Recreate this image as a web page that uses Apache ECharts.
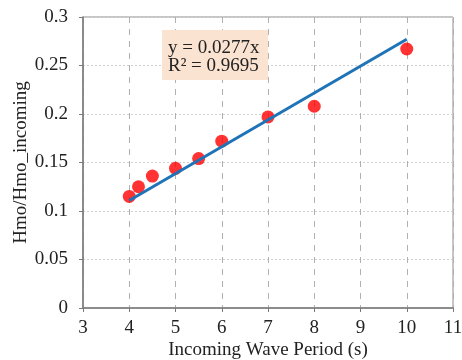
<!DOCTYPE html>
<html>
<head>
<meta charset="utf-8">
<script src="https://cdn.jsdelivr.net/npm/echarts@6/dist/echarts.min.js"></script>
<style>
  html, body { margin: 0; padding: 0; background: #fff; }
  #chart { width: 462px; height: 360px; }
</style>
</head>
<body>
<div id="chart"></div>
<script>
// measured points
const periods = [4, 4.2, 4.5, 5, 5.5, 6, 7, 8, 10]
const ratios = [0.115, 0.125, 0.136, 0.144, 0.154, 0.172, 0.197, 0.208, 0.267]

// linear fit through origin
const fitX = [4, 10]
const fitY = [0.1108, 0.277]
const fitLabels = ['y = 0.0277x', 'R² = 0.9695']

const xTitle = 'Incoming Wave Period (s)'
const yTitle = 'Hmo/Hmo_incoming'

const serif = '"Liberation Serif", "DejaVu Serif", serif'

const chart = echarts.init(document.getElementById('chart'))

const option = {
  animation: false,
  grid: {
    left: 83,
    right: 9,
    top: 17,
    bottom: 52,
    outerBoundsMode: 'none',
    show: true,
    borderColor: '#8c8c8c',
    borderWidth: 1
  },
  xAxis: {
    type: 'value',
    min: 3,
    max: 11,
    interval: 1,
    name: xTitle,
    nameLocation: 'middle',
    nameGap: 33,
    nameMoveOverlap: false,
    nameTextStyle: { fontFamily: serif, fontSize: 19, color: '#222' },
    axisLine: { show: true, lineStyle: { color: '#7a7a7a', width: 1.5 } },
    axisTick: { show: true, length: 4, lineStyle: { color: '#7a7a7a' } },
    axisLabel: { fontFamily: serif, fontSize: 19, color: '#222', margin: 11 },
    splitLine: {
      show: true,
      lineStyle: { color: '#b0b0b0', type: [6, 6], width: 1 }
    }
  },
  yAxis: {
    type: 'value',
    min: 0,
    max: 0.3,
    interval: 0.05,
    name: yTitle,
    nameLocation: 'middle',
    nameGap: 52,
    nameMoveOverlap: false,
    nameTextStyle: { fontFamily: serif, fontSize: 19, color: '#222' },
    axisLine: { show: true, lineStyle: { color: '#7a7a7a', width: 1.5 } },
    axisTick: { show: true, length: 4, lineStyle: { color: '#7a7a7a' } },
    axisLabel: {
      fontFamily: serif, fontSize: 19, color: '#222', margin: 15,
      formatter: v => String(+v.toFixed(2))
    },
    splitLine: {
      show: true,
      lineStyle: { color: '#cfcfcf', type: [2, 2], width: 1 }
    }
  },
  graphic: [
    {
      type: 'rect',
      left: 162,
      top: 30,
      shape: { width: 106, height: 50 },
      style: { fill: '#fbe3d2' },
      z: 10
    },
    {
      type: 'text',
      left: 168,
      top: 39,
      style: {
        text: fitLabels.join('\n'),
        font: '19px ' + serif,
        fill: '#222',
        lineHeight: 18
      },
      z: 11
    }
  ],
  series: [
    {
      name: 'fit',
      type: 'line',
      data: fitX.map((x, i) => [x, fitY[i]]),
      showSymbol: false,
      lineStyle: { color: '#1f73b7', width: 3 },
      z: 3
    },
    {
      name: 'data',
      type: 'scatter',
      data: periods.map((x, i) => [x, ratios[i]]),
      symbolSize: 13,
      itemStyle: { color: '#ff0000' },
      z: 2
    }
  ]
}

chart.setOption(option)
</script>
</body>
</html>
